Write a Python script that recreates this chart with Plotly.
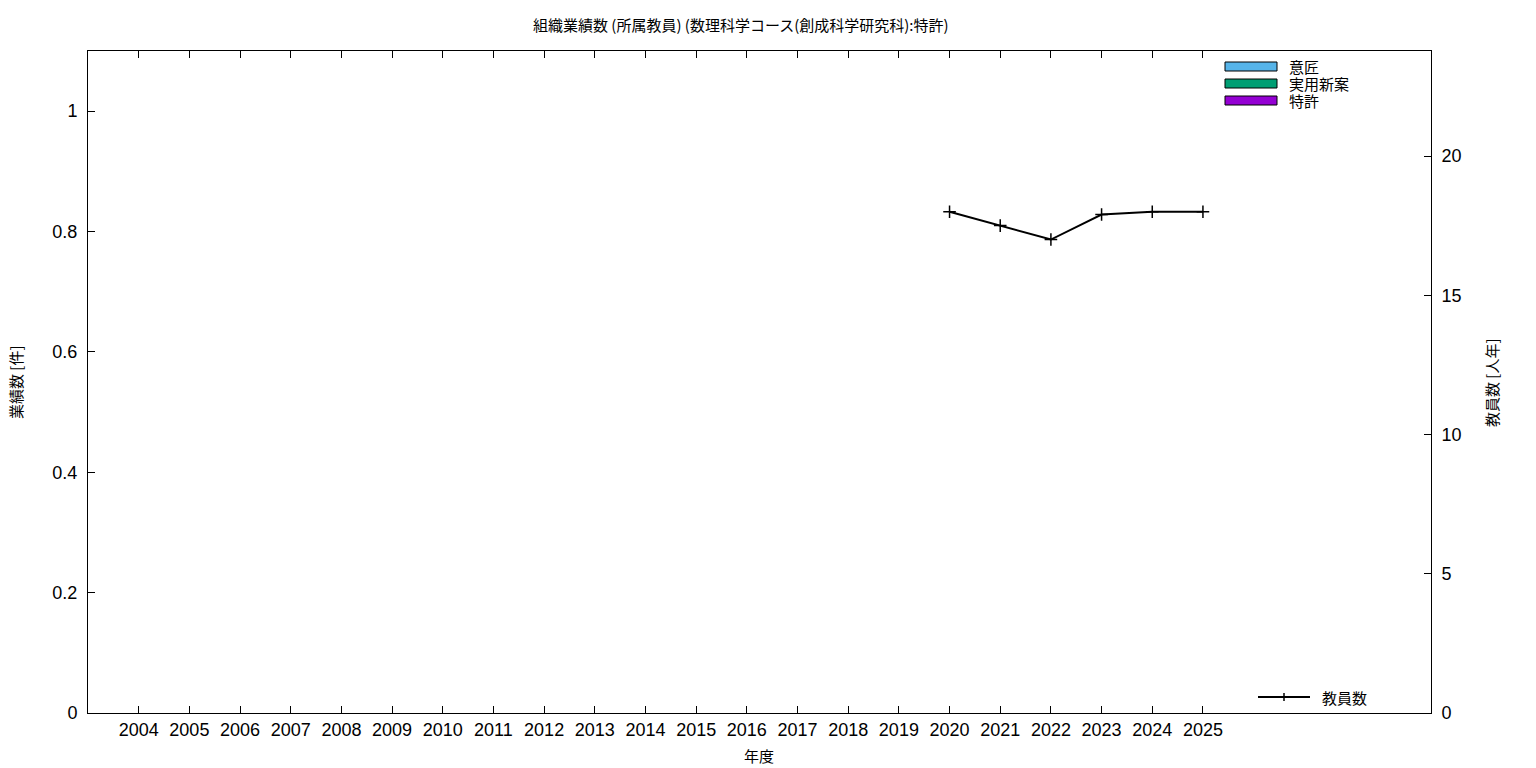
import plotly.graph_objects as go

years = list(range(2004, 2026))
year_labels = [str(y) for y in years]
design = [0] * len(years)        # 意匠
utility = [0] * len(years)       # 実用新案
patent = [0] * len(years)        # 特許
staff_years = [2020, 2021, 2022, 2023, 2024, 2025]
staff = [18.0, 17.5, 17.0, 17.9, 18.0, 18.0]  # 教員数

bar_names = ["意匠", "実用新案", "特許"]
bar_colors = ["#56b4e9", "#009e73", "#9400d3"]

FONT = "Noto Sans CJK JP"
TICKFONT = "Liberation Sans, Noto Sans CJK JP"
L, R, T, B = 88, 105, 51, 55
W, H = 1536, 768
PW, PH = W - L - R, H - T - B

def px(x):
    return (x - L) / PW

def py(y):
    return (H - B - y) / PH

fig = go.Figure()
for name, vals, col in zip(bar_names, [design, utility, patent], bar_colors):
    fig.add_trace(go.Bar(x=years, y=vals, name=name, marker=dict(color=col, line=dict(color="black", width=1)),
                         showlegend=False, yaxis="y"))
fig.add_trace(go.Scatter(x=staff_years, y=staff, name="教員数", mode="lines+markers", yaxis="y2",
                         line=dict(color="black", width=2),
                         marker=dict(symbol="cross-thin", size=9, line=dict(color="black", width=1.5)),
                         showlegend=False))

shapes = []
annotations = []

def text(t, x, y, size=15, angle=0, xanchor="center"):
    annotations.append(dict(text=t, xref="paper", yref="paper", x=px(x), y=py(y), xanchor=xanchor,
                            yanchor="middle", textangle=angle, showarrow=False,
                            font=dict(family=FONT, size=size, color="black")))

# manual legend for bars
for i, (name, col) in enumerate(zip(bar_names, bar_colors)):
    yc = 66.5 + i * 17
    shapes.append(dict(type="rect", xref="paper", yref="paper", x0=px(1225), x1=px(1277),
                       y0=py(yc + 4.5), y1=py(yc - 4.5), fillcolor=col, line=dict(color="black", width=1)))
    text(name, 1287, yc, xanchor="left")
# manual legend for line
shapes.append(dict(type="line", xref="paper", yref="paper", x0=px(1258), x1=px(1310), y0=py(697), y1=py(697),
                   line=dict(color="black", width=2)))
shapes.append(dict(type="line", xref="paper", yref="paper", x0=px(1284), x1=px(1284), y0=py(693), y1=py(701),
                   line=dict(color="black", width=1.5)))
text("教員数", 1320, 697, xanchor="left")
# axis titles and title
text("業績数 [件]", 15, 382, angle=-90)
text("教員数 [人年]", 1491, 382, angle=-90)
text("年度", 759, 755)
text("組織業績数 (所属教員) (数理科学コース(創成科学研究科):特許)", 741, 25)

axis_common = dict(ticks="inside", ticklen=7, tickcolor="black", showline=True, linecolor="black", linewidth=1,
                   showgrid=False, zeroline=False, tickfont=dict(family=TICKFONT, size=18, color="black"))

fig.update_layout(
    width=W, height=H,
    margin=dict(l=L, r=R, t=T, b=B),
    paper_bgcolor="white", plot_bgcolor="white",
    showlegend=False,
    barmode="stack",
    font=dict(family=FONT, color="black"),
    xaxis=dict(range=[2003, 2029.5], tickvals=years, ticktext=year_labels, mirror="ticks",
               ticklabelstandoff=0, **axis_common),
    yaxis=dict(range=[0, 1.1], tickvals=[0, 0.2, 0.4, 0.6, 0.8, 1], ticktext=["0", "0.2", "0.4", "0.6", "0.8", "1"],
               mirror=True, ticklabelstandoff=6, **axis_common),
    yaxis2=dict(range=[0, 23.77], overlaying="y", side="right", tickvals=[0, 5, 10, 15, 20],
                ticklabelstandoff=6, **axis_common),
    shapes=shapes,
    annotations=annotations,
)

fig.write_html("out.html", config={"displayModeBar": False},
               post_script="document.body.style.margin='0';document.body.style.padding='0';")
